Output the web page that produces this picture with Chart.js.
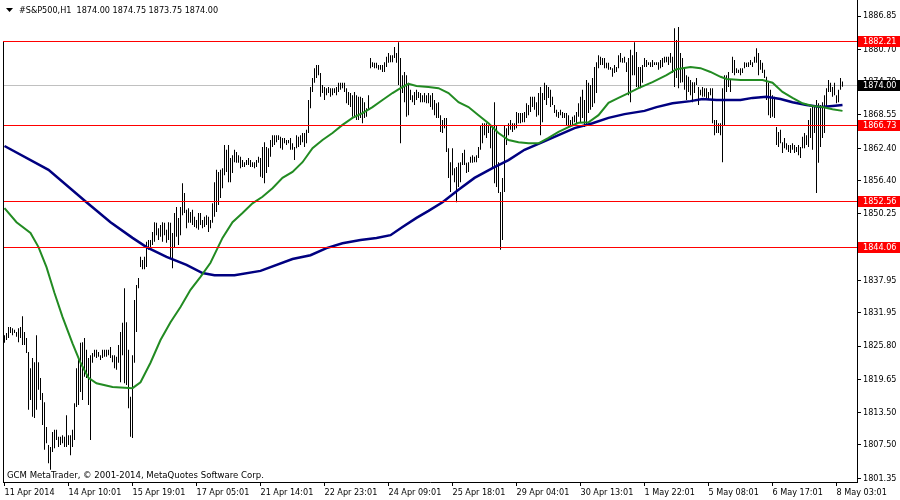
<!DOCTYPE html>
<html><head><meta charset="utf-8">
<script src="https://cdn.jsdelivr.net/npm/chart.js@4"></script>
<style>html,body{margin:0;padding:0;background:#fff;}canvas{display:block;}</style>
</head><body>
<canvas id="c" width="900" height="500"></canvas>
<script>
// ---------- DATA ----------
const symbolTitle = '#S&P500,H1  1874.00 1874.75 1873.75 1874.00';
const copyrightText = 'GCM MetaTrader, \u00A9 2001-2014, MetaQuotes Software Corp.';

const timeLabelIdx = [0,32,64,96,128,160,192,224,256,288,320,352,384,416];
const timeLabels = ['11 Apr 2014','14 Apr 10:01','15 Apr 19:01','17 Apr 05:01','21 Apr 14:01','22 Apr 23:01','24 Apr 09:01','25 Apr 18:01','29 Apr 04:01','30 Apr 13:01','1 May 22:01','5 May 08:01','6 May 17:01','8 May 03:01'];

const yTickValues = [1886.85,1880.70,1874.70,1868.55,1862.40,1856.40,1850.25,1844.10,1837.95,1831.95,1825.80,1819.65,1813.50,1807.50,1801.35];
const yMin = 1800.64, yMax = 1889.81;

const levelValues = [1882.21, 1866.73, 1852.56, 1844.06];
const bidPrice = 1874.00;

const barHigh = [
1827.8,1828.2,1829.3,1829.3,1829.1,1828.8,1828.4,1829.1,1829.3,1831.3,
1828.4,1827.3,1824.7,1821.7,1823.6,1822.8,1827.8,1822.8,1819.9,1817.1,
1815.4,1810.8,1807.5,1807.1,1809.9,1810.3,1810.3,1809.0,1809.0,1809.3,
1809.0,1813.0,1809.3,1809.3,1810.3,1815.2,1821.7,1823.6,1826.4,1826.5,
1827.3,1825.1,1823.6,1824.1,1824.5,1825.1,1825.1,1824.7,1824.1,1825.1,
1825.1,1825.1,1825.1,1825.6,1824.1,1824.1,1823.8,1826.0,1828.4,1830.1,
1836.5,1830.2,1825.1,1816.4,1824.1,1834.3,1837.1,1838.4,1842.3,1841.7,
1842.3,1845.1,1845.4,1845.4,1846.9,1848.7,1848.6,1847.6,1848.2,1848.7,
1848.6,1847.3,1848.7,1848.6,1846.7,1850.4,1851.5,1849.5,1851.5,1855.9,
1854.1,1851.0,1851.3,1850.6,1851.0,1849.7,1849.1,1850.4,1850.4,1849.1,
1849.7,1850.0,1849.7,1849.1,1852.2,1856.1,1858.4,1858.0,1858.4,1858.7,
1863.0,1862.1,1863.0,1860.6,1861.1,1862.1,1861.7,1861.1,1860.8,1860.2,
1859.8,1860.2,1860.6,1860.2,1859.8,1859.8,1860.2,1860.8,1860.6,1862.6,
1863.5,1862.6,1862.4,1863.9,1864.8,1864.8,1864.8,1864.8,1864.5,1864.3,
1864.3,1863.9,1863.9,1864.3,1863.3,1862.6,1864.8,1864.5,1864.8,1865.2,
1865.2,1865.8,1871.3,1873.7,1875.4,1877.2,1877.8,1877.8,1876.3,1874.1,
1873.7,1873.5,1873.7,1873.5,1873.5,1873.5,1873.7,1874.5,1874.5,1874.5,
1874.5,1873.5,1872.8,1872.6,1872.2,1872.8,1872.2,1871.9,1871.9,1871.7,
1870.9,1869.8,1872.2,1879.1,1878.3,1878.2,1878.2,1877.8,1877.8,1877.8,
1878.3,1879.3,1880.0,1879.6,1879.6,1881.1,1880.0,1882.0,1879.1,1875.9,
1876.5,1875.9,1874.5,1873.2,1872.2,1872.8,1873.2,1872.8,1872.6,1872.2,
1872.6,1872.2,1872.6,1872.2,1872.6,1871.3,1870.7,1870.9,1868.5,1867.6,
1868.0,1868.0,1862.4,1859.8,1862.4,1858.7,1858.9,1859.7,1859.8,1861.5,
1862.1,1859.7,1859.8,1860.8,1861.1,1860.8,1861.1,1862.6,1866.7,1867.0,
1867.0,1867.0,1866.7,1866.7,1866.3,1870.9,1866.7,1859.8,1854.3,1856.9,
1866.7,1866.1,1867.0,1867.6,1867.0,1867.0,1869.1,1868.9,1868.9,1868.9,
1869.1,1870.7,1870.4,1871.9,1871.9,1871.9,1870.9,1872.6,1873.7,1872.6,
1874.5,1874.1,1873.7,1873.2,1871.9,1870.4,1869.5,1869.1,1869.5,1869.1,
1868.9,1868.9,1868.5,1867.6,1868.2,1868.5,1869.1,1870.7,1871.9,1873.2,
1871.3,1875.0,1874.5,1874.1,1875.4,1877.4,1878.3,1879.6,1879.3,1879.1,
1879.1,1878.2,1878.2,1877.4,1877.2,1877.8,1877.4,1879.6,1880.0,1879.1,
1879.3,1878.3,1879.1,1880.6,1879.6,1882.0,1880.2,1877.4,1877.4,1877.8,
1879.1,1878.7,1878.3,1878.3,1878.7,1878.3,1878.3,1878.3,1878.7,1879.1,
1879.3,1879.3,1879.3,1880.0,1879.3,1884.6,1882.4,1884.8,1880.0,1879.1,
1877.4,1875.9,1875.6,1875.0,1874.6,1874.6,1875.4,1873.7,1873.2,1873.7,
1873.5,1873.5,1872.8,1873.5,1873.5,1867.6,1867.6,1867.0,1867.0,1873.5,
1875.9,1875.9,1876.5,1875.0,1879.3,1878.7,1877.2,1876.9,1877.2,1877.2,
1878.3,1878.2,1878.3,1878.7,1878.3,1879.3,1880.9,1880.0,1878.7,1878.2,
1876.9,1875.6,1874.5,1873.2,1872.2,1871.9,1866.3,1865.4,1865.8,1863.5,
1864.3,1863.3,1863.0,1863.0,1863.3,1863.0,1862.6,1863.0,1862.6,1864.5,
1865.2,1864.8,1867.6,1869.8,1870.4,1870.0,1871.3,1870.7,1870.4,1870.9,
1872.2,1873.5,1875.0,1874.5,1873.7,1874.5,1872.2,1873.2,1875.4,1874.75
];
const barLow = [
1826.4,1826.9,1827.3,1828.2,1827.8,1828.2,1827.5,1826.5,1827.3,1826.0,
1826.0,1824.5,1814.0,1815.8,1812.7,1812.5,1814.0,1817.7,1815.8,1811.2,
1806.6,1807.8,1804.1,1802.9,1806.2,1806.9,1808.4,1807.1,1807.5,1807.8,
1807.1,1807.1,1807.5,1805.6,1807.1,1808.4,1814.5,1814.9,1817.3,1815.8,
1820.1,1819.9,1814.9,1808.4,1822.7,1823.8,1823.6,1823.8,1823.2,1823.6,
1823.8,1823.8,1824.1,1823.6,1822.8,1821.7,1821.4,1822.7,1819.1,1824.1,
1818.9,1818.6,1814.3,1809.0,1808.8,1822.7,1828.4,1836.5,1840.4,1840.0,
1840.0,1840.4,1843.6,1843.9,1844.5,1845.1,1846.3,1845.4,1846.0,1845.1,
1846.3,1844.9,1845.4,1842.1,1840.2,1844.1,1846.0,1844.5,1846.3,1850.0,
1850.4,1847.6,1848.6,1848.6,1848.2,1847.8,1847.6,1847.3,1848.2,1847.6,
1847.8,1848.2,1846.9,1847.6,1848.6,1849.7,1850.6,1851.9,1853.2,1855.0,
1857.4,1858.0,1856.1,1856.1,1857.8,1859.8,1859.7,1859.7,1858.7,1858.9,
1858.9,1859.3,1859.3,1858.9,1858.9,1858.7,1858.9,1859.7,1857.1,1856.9,
1855.9,1857.8,1858.9,1860.8,1862.6,1863.0,1863.5,1863.9,1862.4,1862.1,
1863.3,1863.0,1863.3,1862.1,1862.1,1860.2,1862.4,1862.6,1863.0,1863.5,
1862.6,1863.3,1865.2,1869.8,1872.8,1874.5,1875.4,1875.9,1871.9,1872.6,
1871.3,1872.2,1872.6,1871.9,1872.2,1872.6,1872.2,1872.8,1873.2,1873.5,
1872.8,1870.7,1870.4,1870.0,1868.2,1868.0,1867.6,1867.6,1868.0,1867.0,
1868.0,1868.2,1869.5,1877.2,1877.4,1877.2,1877.2,1876.9,1876.9,1876.5,
1876.5,1877.4,1878.2,1878.3,1878.3,1879.1,1878.2,1874.1,1863.3,1872.6,
1870.9,1868.2,1868.5,1871.3,1870.9,1870.4,1871.3,1871.7,1870.9,1870.9,
1870.9,1870.7,1870.7,1870.0,1869.5,1868.5,1868.0,1868.0,1865.4,1865.2,
1866.1,1861.7,1856.9,1854.3,1857.4,1856.1,1852.4,1855.2,1856.1,1859.3,
1859.3,1857.8,1858.0,1859.7,1859.7,1859.8,1859.8,1860.6,1862.1,1863.3,
1864.8,1864.3,1865.2,1862.4,1858.7,1855.9,1855.2,1854.1,1843.6,1845.4,
1854.3,1863.0,1864.8,1865.8,1865.4,1865.8,1866.1,1867.0,1867.0,1867.2,
1867.2,1868.0,1868.5,1869.1,1870.0,1869.5,1868.2,1868.5,1864.8,1867.2,
1871.3,1870.4,1871.7,1870.0,1870.4,1868.9,1868.2,1868.0,1868.5,1868.0,
1868.0,1866.7,1866.3,1866.3,1866.7,1867.2,1867.0,1868.2,1867.2,1868.0,
1866.3,1866.7,1868.9,1869.5,1870.0,1870.7,1872.6,1877.2,1877.8,1877.8,
1877.2,1877.2,1876.9,1876.9,1875.6,1876.3,1876.5,1877.2,1878.3,1878.2,
1878.2,1876.5,1872.2,1870.9,1875.9,1875.9,1873.7,1873.5,1873.5,1874.5,
1877.4,1877.4,1877.8,1877.4,1877.4,1877.8,1877.8,1876.9,1877.2,1877.4,
1878.2,1878.3,1877.8,1878.2,1876.3,1873.7,1875.4,1873.5,1874.5,1874.6,
1873.2,1871.3,1872.8,1872.2,1870.9,1872.6,1874.1,1870.4,1872.2,1871.9,
1871.9,1871.7,1871.3,1872.2,1867.0,1864.8,1865.2,1865.2,1864.8,1859.8,
1866.7,1872.8,1873.7,1872.8,1876.3,1875.9,1876.3,1876.3,1875.9,1876.3,
1877.2,1877.4,1877.4,1877.8,1877.4,1878.2,1878.2,1875.9,1876.9,1876.3,
1875.4,1871.3,1868.5,1868.0,1868.2,1868.0,1863.0,1862.6,1863.3,1861.5,
1862.4,1862.1,1861.7,1861.5,1862.1,1861.5,1861.7,1861.1,1860.6,1862.4,
1862.4,1863.0,1862.6,1864.3,1862.1,1865.2,1854.1,1859.7,1862.6,1864.3,
1865.2,1870.0,1872.8,1872.8,1871.9,1872.2,1870.7,1870.9,1873.2,1873.75
];

// moving averages, read at sampled bars
const maFastIdx = [0,6,13,17,21,25,29,34,38,42,46,54,64,68,73,78,83,88,93,98,103,109,114,119,124,129,134,139,144,149,154,159,164,169,174,179,184,189,194,198,202,206,212,217,222,227,232,237,242,247,252,257,262,267,272,277,282,287,292,297,302,307,312,317,324,331,336,343,348,353,358,361,368,379,384,389,394,399,404,409,414,419];
const maFastVal = [1851.3,1848.7,1846.7,1844.1,1840.4,1835.6,1831.2,1826.3,1822.7,1819.9,1818.9,1818.2,1818.0,1819.1,1822.7,1826.9,1830.2,1833.0,1836.2,1838.6,1841.2,1845.8,1848.7,1850.4,1852.2,1853.4,1855.0,1856.9,1858.0,1859.8,1862.4,1863.9,1865.2,1866.7,1868.0,1868.9,1870.0,1871.3,1872.6,1873.5,1874.3,1873.9,1873.7,1873.5,1872.6,1870.9,1870.0,1868.5,1867.0,1865.2,1863.9,1863.5,1863.3,1863.3,1864.3,1865.4,1866.3,1867.1,1867.2,1868.5,1870.8,1871.7,1872.6,1873.5,1874.6,1875.9,1877.0,1877.4,1877.2,1876.5,1875.6,1875.2,1875.0,1875.0,1874.5,1872.8,1871.7,1870.7,1870.2,1870.0,1869.6,1869.3];

const maSlowIdx = [0,22,41,53,64,71,81,91,99,105,115,128,144,153,161,169,178,186,193,199,206,212,219,227,235,244,252,260,269,277,285,294,302,310,320,326,334,343,349,356,368,374,381,388,394,401,408,414,419];
const maSlowVal = [1862.8,1858.4,1852.4,1848.7,1845.8,1844.1,1842.3,1840.8,1839.3,1838.9,1838.9,1839.7,1841.9,1842.6,1843.9,1844.8,1845.4,1845.8,1846.3,1847.8,1849.5,1850.8,1852.4,1854.7,1856.9,1858.7,1860.2,1862.1,1863.5,1864.8,1866.1,1867.0,1868.0,1868.7,1869.3,1870.0,1870.7,1871.1,1871.5,1871.3,1871.3,1871.7,1871.9,1871.5,1870.9,1870.4,1870.0,1870.2,1870.4];

// ---------- CHART ----------
const FONT = '"DejaVu Sans Condensed", "DejaVu Sans", sans-serif';
Chart.defaults.font.family = FONT;
Chart.defaults.font.size = 9;
Chart.defaults.color = '#000';

const bars = barHigh.map((h, i) => ({x: i, y: [barLow[i], h]}));
const fast = maFastIdx.map((x, k) => ({x, y: maFastVal[k]}));
const slow = maSlowIdx.map((x, k) => ({x, y: maSlowVal[k]}));

const overlay = {
  id: 'overlay',
  beforeDatasetsDraw(chart) {
    const {ctx, chartArea: a, scales: {y}} = chart;
    const py = Math.round(y.getPixelForValue(bidPrice));
    ctx.save();
    ctx.fillStyle = 'rgb(192,192,192)';
    ctx.fillRect(a.left, py, a.right - a.left, 1);
    ctx.restore();
  },
  afterDatasetsDraw(chart) {
    const {ctx, chartArea: a, scales: {y}} = chart;
    ctx.save();
    ctx.fillStyle = 'rgb(255,0,0)';
    levelValues.forEach(v => {
      const py = Math.round(y.getPixelForValue(v));
      ctx.fillRect(a.left, py, a.right - a.left, 1);
    });
    // left frame line
    ctx.fillStyle = 'rgb(0,0,0)';
    const top = Math.round(y.getPixelForValue(levelValues[0])) + 1;
    ctx.fillRect(a.left, top, 1, a.bottom - top);
    ctx.restore();
  },
  afterDraw(chart) {
    const {ctx, chartArea: a, scales: {y}} = chart;
    ctx.save();
    ctx.font = '9px ' + FONT;
    ctx.textBaseline = 'middle';
    ctx.textAlign = 'left';
    const box = (v, bg) => {
      const py = Math.round(y.getPixelForValue(v));
      ctx.fillStyle = bg;
      ctx.fillRect(a.right + 1, py - 5, 900 - a.right - 1, 11);
      ctx.fillStyle = '#fff';
      ctx.fillText(v.toFixed(2), a.right + 6, py + 0.5);
    };
    levelValues.forEach(v => box(v, 'rgb(255,0,0)'));
    box(bidPrice, 'rgb(0,0,0)');
    // header
    ctx.fillStyle = '#000';
    ctx.beginPath();
    ctx.moveTo(6, 8); ctx.lineTo(13, 8); ctx.lineTo(9.5, 12); ctx.closePath(); ctx.fill();
    ctx.fillText(symbolTitle, 19, 10.5);
    ctx.font = '9.5px ' + FONT;
    ctx.fillText(copyrightText, 7, 475.5);
    ctx.restore();
  }
};

new Chart(document.getElementById('c'), {
  type: 'bar',
  data: {datasets: [
    {type: 'line', label: 'MA fast', data: fast, borderColor: '#228b22', borderWidth: 2, pointRadius: 0, tension: 0, fill: false, order: 1},
    {type: 'line', label: 'MA slow', data: slow, borderColor: '#000080', borderWidth: 2.5, pointRadius: 0, tension: 0, fill: false, order: 2},
    {type: 'bar', label: 'S&P500 H1', data: bars, backgroundColor: '#000', borderWidth: 0, barThickness: 1, minBarLength: 1, inflateAmount: 0, order: 3}
  ]},
  options: {
    responsive: false, animation: false, devicePixelRatio: 1, events: [],
    layout: {padding: {left: 3, top: 0, right: 0, bottom: 0}, autoPadding: false},
    plugins: {legend: {display: false}, tooltip: {enabled: false}},
    scales: {
      x: {
        type: 'linear', position: 'bottom', min: -0.75, max: 426.25, offset: false,
        grid: {display: true, drawOnChartArea: false, drawTicks: true, tickLength: 4, color: '#000', offset: false},
        border: {display: true, color: '#000'},
        ticks: {align: 'start', maxRotation: 0, minRotation: 0, autoSkip: false, padding: 1, color: '#000',
                callback: (v, i) => timeLabels[i]},
        afterBuildTicks: s => { s.ticks = timeLabelIdx.map(v => ({value: v})); },
        afterFit: s => { s.height = 18; s.paddingLeft = 0; s.paddingRight = 0; s.paddingTop = 0; s.paddingBottom = 0; }
      },
      y: {
        type: 'linear', position: 'right', min: yMin, max: yMax, beginAtZero: false,
        grid: {drawOnChartArea: false, drawTicks: true, tickLength: 4, color: '#000'},
        border: {display: true, color: '#000'},
        ticks: {padding: 2, autoSkip: false, color: '#000', callback: v => Number(v).toFixed(2)},
        afterBuildTicks: s => { s.ticks = yTickValues.map(v => ({value: v})); },
        afterFit: s => { s.width = 43; s.paddingTop = 0; s.paddingBottom = 0; s.paddingLeft = 0; s.paddingRight = 0; }
      }
    }
  },
  plugins: [overlay]
});
</script>
</body></html>
